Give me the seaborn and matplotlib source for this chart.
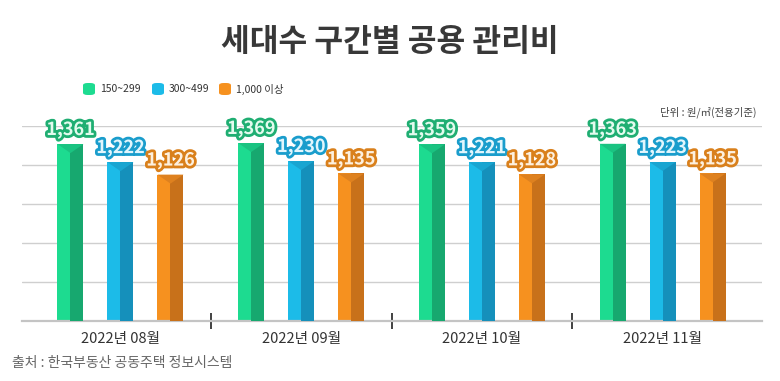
import numpy as np
import pandas as pd
import matplotlib
matplotlib.use("Agg")
import matplotlib.pyplot as plt
import matplotlib.patheffects as pe
from matplotlib.patches import Rectangle, Polygon, FancyBboxPatch
import seaborn as sns

# data
months = ['2022년 08월', '2022년 09월', '2022년 10월', '2022년 11월']
groups = ['150~299', '300~499', '1,000 이상']
fee_150_299 = [1361, 1369, 1359, 1363]
fee_300_499 = [1222, 1230, 1221, 1223]
fee_1000_up = [1126, 1135, 1128, 1135]
y_ticks = [0, 300, 600, 900, 1200, 1500]

light = ['#1ddb90', '#1cbbe8', '#f6911f']
dark = ['#17a86f', '#1590bb', '#c8711a']
mid = ['#1ac381', '#19a5d1', '#de811f']
label_fill = ['#e3fbee', '#e2f6fd', '#fdf0df']
label_edge = ['#1fae72', '#1a9dcc', '#d9801c']

df = pd.DataFrame({
    'month': months * 3,
    'group': [g for g in groups for _ in months],
    'value': fee_150_299 + fee_300_499 + fee_1000_up,
})

sns.set_theme(style='white')
plt.rcParams['font.family'] = ['Noto Sans CJK KR', 'DejaVu Sans']

fig = plt.figure(figsize=(7.8, 3.81), dpi=100)
ax = fig.add_axes([22 / 780, 60 / 381, 740 / 780, 195 / 381])

sns.barplot(data=df, x='month', y='value', hue='group', hue_order=groups,
            palette=light, saturation=1, width=0.83, gap=0.48,
            linewidth=0, legend=False, ax=ax, zorder=2)

ax.set_xlim(-0.545, 3.55)
ax.set_ylim(0, 1500)
ax.set_yticks(y_ticks)
ax.yaxis.grid(True, color='#cfcfcf', linewidth=1, zorder=0)
ax.set_axisbelow(True)
for s in ['top', 'right', 'left']:
    ax.spines[s].set_visible(False)
ax.spines['bottom'].set_color('#c4c4c4')
ax.spines['bottom'].set_linewidth(1.6)
ax.set_yticklabels([])
ax.tick_params(axis='y', length=0)
ax.set_xlabel('')
ax.set_ylabel('')
ax.tick_params(axis='x', which='major', length=0, pad=8, labelsize=10.5, labelcolor='#333333')
ax.set_xticks([0.5, 1.5, 2.5], minor=True)
ax.tick_params(axis='x', which='minor', bottom=True, direction='inout', length=11,
               width=1.3, color='#333333')

# 3D-ish bevel on each bar, using the bar geometry seaborn created
px_per_unit = 195.0 / 1500
bars = [p for p in ax.patches if isinstance(p, Rectangle)]
for i, bar in enumerate(bars):
    k = i // len(months)
    x0, w, h = bar.get_x(), bar.get_width(), bar.get_height()
    ax.add_patch(Rectangle((x0 + w / 2, 0), w / 2, h, facecolor=dark[k],
                           linewidth=0, zorder=3))
    depth = 9 / px_per_unit
    ax.add_patch(Polygon([(x0, h), (x0 + w, h), (x0 + w / 2, h - depth)],
                         closed=True, facecolor=mid[k], linewidth=0, zorder=4))
    ax.annotate(f'{int(h):,}', (x0 + w / 2, h), xytext=(0, 3.5),
                textcoords='offset points', ha='center', va='bottom',
                fontsize=13, fontweight='heavy', color=label_fill[k],
                zorder=6, annotation_clip=False,
                path_effects=[pe.withStroke(linewidth=4, foreground=label_edge[k])])

# title
fig.text(0.5, 1 - 42 / 381, '세대수 구간별 공용 관리비', ha='center', va='center',
         fontsize=22.5, fontweight='heavy', color='#383838')

# legend with rounded swatches
leg_x = [83, 152, 219]
for k, g in enumerate(groups):
    fig.patches.append(FancyBboxPatch((leg_x[k] / 780, 1 - 95 / 381), 12 / 780, 12 / 381,
                                      boxstyle='round,pad=0,rounding_size=0.006',
                                      transform=fig.transFigure, facecolor=light[k],
                                      linewidth=0))
    fig.text((leg_x[k] + 17) / 780, 1 - 89 / 381, g, ha='left', va='center',
             fontsize=7.5, color='#333333')

fig.text(757 / 780, 1 - 112 / 381, '단위 : 원/㎡(전용기준)', ha='right', va='center',
         fontsize=7.5, color='#444444')
fig.text(12 / 780, 1 - 363 / 381, '출처 : 한국부동산 공동주택 정보시스템', ha='left',
         va='center', fontsize=10, color='#666666')

fig.savefig('out.png', dpi=100, facecolor='white')
